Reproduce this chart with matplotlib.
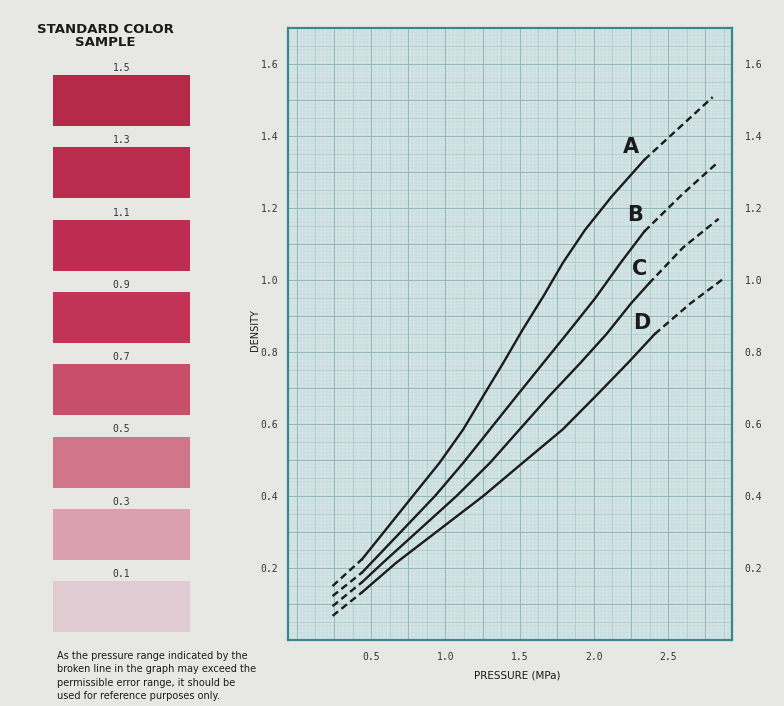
import numpy as np
import matplotlib.pyplot as plt

W, H = 784, 706

# standard colour sample swatches
sample_levels = ['1.5', '1.3', '1.1', '0.9', '0.7', '0.5', '0.3', '0.1']
sample_colors = ['#b42a48', '#ba2b4d', '#be2d51', '#c23355',
                 '#c84f6a', '#d1758a', '#dba0b0', '#dfcbd1']

# density vs pressure (MPa)
p_A = [0.24, 0.44, 0.80, 0.96, 1.12, 1.255, 1.39, 1.52, 1.66, 1.79, 1.94, 2.12, 2.34, 2.58, 2.80]
d_A = [0.150, 0.225, 0.410, 0.492, 0.585, 0.678, 0.770, 0.862, 0.955, 1.047, 1.139, 1.232, 1.334, 1.425, 1.508]
p_B = [0.24, 0.44, 0.93, 1.12, 1.30, 1.48, 1.66, 1.84, 2.01, 2.175, 2.34, 2.60, 2.83]
d_B = [0.122, 0.188, 0.400, 0.492, 0.585, 0.678, 0.770, 0.862, 0.950, 1.045, 1.135, 1.240, 1.325]
p_C = [0.24, 0.44, 0.58, 1.075, 1.30, 1.50, 1.70, 1.91, 2.085, 2.25, 2.37, 2.60, 2.84]
d_C = [0.094, 0.161, 0.215, 0.400, 0.492, 0.585, 0.678, 0.770, 0.850, 0.935, 0.990, 1.090, 1.170]
p_D = [0.24, 0.44, 0.67, 1.255, 1.52, 1.79, 2.03, 2.23, 2.41, 2.65, 2.88]
d_D = [0.067, 0.133, 0.215, 0.400, 0.492, 0.585, 0.685, 0.770, 0.850, 0.935, 1.006]
curve_names = ['A', 'B', 'C', 'D']
solid_from = 0.44
solid_to = [2.34, 2.34, 2.37, 2.41]
label_pos = [(2.25, 1.37), (2.28, 1.18), (2.31, 1.03), (2.32, 0.88)]

x_ticks = [0.5, 1.0, 1.5, 2.0, 2.5]
y_ticks = [0.2, 0.4, 0.6, 0.8, 1.0, 1.2, 1.4, 1.6]

paper = '#e7e8e4'
teal = '#3a8790'
ink = '#1b1b1b'
mono = 'DejaVu Sans Mono'

fig = plt.figure(figsize=(W / 100, H / 100), dpi=100, facecolor=paper)


def fx(x):
    return x / W


def fy(y):
    return 1 - y / H


# ---- main chart ----
ax = fig.add_axes([fx(288), fy(640), fx(732) - fx(288), fy(28) - fy(640)])
ax.set_facecolor('#d5e5e6')
ax.set_xlim(-0.06, 2.93)
ax.set_ylim(0, 1.70)

# graph paper grid
ax.vlines(np.arange(0, 2.95, 0.025), 0, 1.7, color='#bad5d7', lw=0.3, zorder=0)
ax.hlines(np.arange(0, 1.71, 0.01), -0.06, 2.93, color='#bad5d7', lw=0.3, zorder=0)
ax.vlines(np.arange(0, 2.95, 0.125), 0, 1.7, color='#a8c9cc', lw=0.5, zorder=0)
ax.hlines(np.arange(0, 1.71, 0.05), -0.06, 2.93, color='#a8c9cc', lw=0.5, zorder=0)
ax.vlines(np.arange(0, 2.95, 0.25), 0, 1.7, color='#93b9bd', lw=0.7, zorder=0)
ax.hlines(np.arange(0, 1.71, 0.1), -0.06, 2.93, color='#93b9bd', lw=0.7, zorder=0)

curves = [(p_A, d_A), (p_B, d_B), (p_C, d_C), (p_D, d_D)]
for (p, d), hi, name, (lx, ly) in zip(curves, solid_to, curve_names, label_pos):
    p = np.array(p)
    d = np.array(d)
    low = p <= solid_from
    mid = (p >= solid_from) & (p <= hi)
    high = p >= hi
    ax.plot(p[low], d[low], color=ink, lw=1.7, dashes=(3, 1.8), zorder=3)
    ax.plot(p[mid], d[mid], color=ink, lw=1.7, zorder=3, solid_joinstyle='round')
    ax.plot(p[high], d[high], color=ink, lw=1.7, dashes=(3, 1.8), zorder=3)
    ax.text(lx, ly, name, fontsize=15, fontweight='bold', color=ink,
            ha='center', va='center', zorder=4)

for s in ax.spines.values():
    s.set_color(teal)
    s.set_linewidth(1.6)

ax.set_xticks(x_ticks)
ax.set_xticklabels(['%.1f' % v for v in x_ticks], family=mono, fontsize=7, color='#333333')
ax.set_yticks(y_ticks)
ax.set_yticklabels(['%.1f' % v for v in y_ticks], family=mono, fontsize=7, color='#333333')
ax.tick_params(axis='y', length=0, pad=7)
ax.tick_params(axis='x', length=0, pad=9)

ax2 = ax.twinx()
ax2.set_ylim(ax.get_ylim())
ax2.set_yticks(y_ticks)
ax2.set_yticklabels(['%.1f' % v for v in y_ticks], family=mono, fontsize=7, color='#333333')
ax2.tick_params(length=0, pad=9)
for s in ax2.spines.values():
    s.set_visible(False)

fig.text(fx(255), fy(330), 'DENSITY', rotation=90, ha='center', va='center',
         fontsize=7, color=ink)
fig.text(fx(517), fy(675), 'PRESSURE (MPa)', ha='center', va='center',
         fontsize=7.5, color=ink)

# ---- standard colour sample panel ----
fig.text(fx(105), fy(36), 'STANDARD COLOR\nSAMPLE', ha='center', va='center',
         fontsize=9.5, fontweight='bold', color=ink, linespacing=1.0)

sw = fig.add_axes([0, 0, 1, 1], facecolor='none')
sw.set_xlim(0, W)
sw.set_ylim(H, 0)
sw.axis('off')
row_h = 72.3
for i, (lev, col) in enumerate(zip(sample_levels, sample_colors)):
    top = 75 + i * row_h
    sw.bar(121.5, 51, width=137, bottom=top, color=col, edgecolor='none')
    sw.text(121.5, top - 7, lev, ha='center', va='center', family=mono,
            fontsize=7, color='#333333')

fig.text(fx(57), fy(676),
         'As the pressure range indicated by the\n'
         'broken line in the graph may exceed the\n'
         'permissible error range, it should be\n'
         'used for reference purposes only.',
         ha='left', va='center', fontsize=7, color=ink, linespacing=1.4)

fig.savefig('out.png', dpi=100, facecolor=paper)
